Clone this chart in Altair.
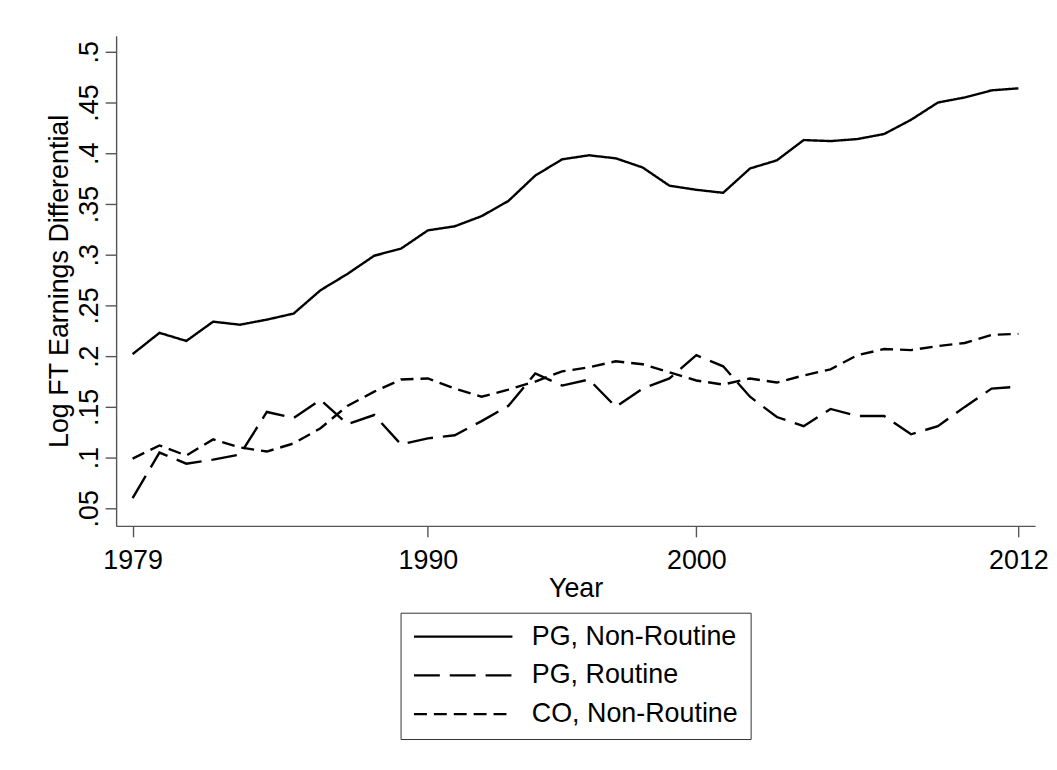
import altair as alt
import pandas as pd

years = list(range(1979, 2013))

pg_nonroutine = [0.202, 0.223, 0.215, 0.234, 0.231, 0.236, 0.242, 0.265, 0.281, 0.299,
                 0.306, 0.324, 0.328, 0.338, 0.353, 0.378, 0.394, 0.398, 0.395, 0.386,
                 0.368, 0.364, 0.361, 0.385, 0.393, 0.413, 0.412, 0.414, 0.419, 0.433,
                 0.450, 0.455, 0.462, 0.464]
pg_routine = [0.060, 0.105, 0.094, 0.098, 0.103, 0.145, 0.139, 0.157, 0.133, 0.142,
              0.113, 0.119, 0.122, 0.136, 0.151, 0.183, 0.171, 0.177, 0.150, 0.168,
              0.178, 0.201, 0.190, 0.160, 0.140, 0.131, 0.148, 0.141, 0.141, 0.123,
              0.131, 0.150, 0.168, 0.170]
co_nonroutine = [0.099, 0.112, 0.102, 0.118, 0.110, 0.106, 0.114, 0.129, 0.151, 0.165,
                 0.177, 0.178, 0.168, 0.160, 0.167, 0.175, 0.185, 0.189, 0.195, 0.192,
                 0.184, 0.176, 0.172, 0.178, 0.174, 0.181, 0.187, 0.201, 0.207, 0.206,
                 0.210, 0.213, 0.221, 0.222]

series_names = ["PG, Non-Routine", "PG, Routine", "CO, Non-Routine"]
series_dashes = [[1, 0], [26, 10], [13, 7]]
x_ticks = [1979, 1990, 2000, 2012]
y_ticks = [0.05, 0.1, 0.15, 0.2, 0.25, 0.3, 0.35, 0.4, 0.45, 0.5]

rows = []
for name, vals in zip(series_names, [pg_nonroutine, pg_routine, co_nonroutine]):
    for yr, v in zip(years, vals):
        rows.append({"Year": yr, "value": v, "series": name})
df = pd.DataFrame(rows)

FONT = "Liberation Sans"
FS = 27
AX = "#555555"

chart = alt.Chart(df).mark_line(color="black", strokeWidth=2.4).encode(
    x=alt.X("Year:Q",
            scale=alt.Scale(domain=[1978.385, 2012.62], nice=False, zero=False),
            axis=alt.Axis(values=x_ticks, title="Year", format="d", grid=False,
                          tickSize=11, labelPadding=11, titlePadding=2,
                          labelFontSize=FS, titleFontSize=FS, labelFont=FONT, titleFont=FONT,
                          labelColor="black", titleColor="black", titleFontWeight="normal",
                          domainColor=AX, tickColor=AX, domainWidth=1.4, tickWidth=1.4,
                          labelFlush=False, labelOverlap=False)),
    y=alt.Y("value:Q",
            scale=alt.Scale(domain=[0.0327, 0.5157], nice=False, zero=False),
            axis=alt.Axis(values=y_ticks, title="Log FT Earnings Differential", grid=False,
                          labelExpr="replace(format(datum.value, '.2~f'), '0.', '.')",
                          tickSize=11, labelPadding=2, titlePadding=2,
                          labelAngle=270, labelAlign="center", labelBaseline="bottom",
                          labelFontSize=FS, titleFontSize=FS, labelFont=FONT, titleFont=FONT,
                          labelColor="black", titleColor="black", titleFontWeight="normal",
                          domainColor=AX, tickColor=AX, domainWidth=1.4, tickWidth=1.4,
                          labelFlush=False, labelOverlap=False)),
    strokeDash=alt.StrokeDash("series:N",
                              scale=alt.Scale(domain=series_names, range=series_dashes),
                              legend=alt.Legend(title=None, orient="none", legendX=286, legendY=580,
                                                direction="vertical", strokeColor="#333333",
                                                fillColor="white", padding=12,
                                                symbolType="stroke", symbolSize=9801,
                                                symbolStrokeWidth=2.4, symbolStrokeColor="black",
                                                labelFontSize=FS, labelFont=FONT, labelColor="black",
                                                labelLimit=0, labelOffset=18,
                                                clipHeight=24, rowPadding=12)),
).properties(
    width=924,
    height=492.7,
    padding={"left": 108.7, "top": 26, "right": 14, "bottom": 225},
    autosize=alt.AutoSizeParams(type="none"),
    background="white",
).configure_view(stroke=None)

chart.save("out.html", embed_options={"renderer": "svg", "actions": False})
